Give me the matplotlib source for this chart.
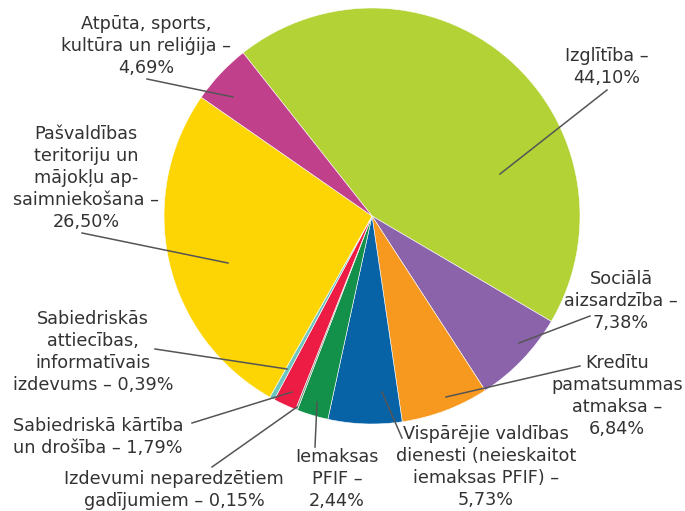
import matplotlib
matplotlib.use("Agg")
import matplotlib.pyplot as plt

labels = [
    "Izglītība –\n44,10%",
    "Sociālā\naizsardzība –\n7,38%",
    "Kredītu\npamatsummas\natmaksa –\n6,84%",
    "Vispārējie valdības\ndienesti (neieskaitot\niemaksas PFIF) –\n5,73%",
    "Iemaksas\nPFIF –\n2,44%",
    "Izdevumi neparedzētiem\ngadījumiem – 0,15%",
    "Sabiedriskā kārtība\nun drošība – 1,79%",
    "Sabiedriskās\nattiecības,\ninformatīvais\nizdevums – 0,39%",
    "Pašvaldības\nteritoriju un\nmājokļu ap-\nsaimniekošana –\n26,50%",
    "Atpūta, sports,\nkultūra un reliģija –\n4,69%",
]
values = [44.10, 7.38, 6.84, 5.73, 2.44, 0.15, 1.79, 0.39, 26.50, 4.69]
colors = ["#B2D235", "#8B63AA", "#F7991F", "#0862A6", "#13904A",
          "#7A9A80", "#ED1C44", "#6CC5C0", "#FDD504", "#C1408C"]

W, H = 685, 511
fig = plt.figure(figsize=(W / 100, H / 100), dpi=100)
ax = fig.add_axes([0, 0, 1, 1])

def P(x, y):
    return (x, H - y)

cx, cy = P(372, 216)
ax.pie(values, colors=colors, startangle=128.3, counterclock=False,
       center=(cx, cy), radius=208, frame=True,
       wedgeprops=dict(linewidth=0.4, edgecolor="white"))
ax.set_xlim(0, W)
ax.set_ylim(0, H)
ax.axis("off")

# label centers (pixel coords) and leader lines (pixel coords)
label_pos = [(607, 67), (621, 301), (617, 396), (486, 467), (337, 479),
             (174, 490), (98, 437), (93, 352), (86, 178), (146, 46)]
leaders = [
    [(500, 174), (607, 90)],
    [(519, 343), (590, 316)],
    [(446, 397), (580, 366)],
    [(382, 392), (402, 438)],
    [(317, 402), (315, 447)],
    [(297, 407), (212, 467)],
    [(292, 392), (192, 423)],
    [(287, 369), (155, 349)],
    [(228, 263), (82, 233)],
    [(233, 97), (147, 79)],
]

for (lx, ly), txt in zip(label_pos, labels):
    ax.text(*P(lx, ly), txt, ha="center", va="center", fontsize=12.7,
            color="#333333", family="DejaVu Sans", linespacing=1.3)

for seg in leaders:
    (x0, y0), (x1, y1) = seg
    X0, Y0 = P(x0, y0)
    X1, Y1 = P(x1, y1)
    ax.plot([X0, X1], [Y0, Y1], color="#555555", lw=1.1)

fig.savefig("out.png", dpi=100)
